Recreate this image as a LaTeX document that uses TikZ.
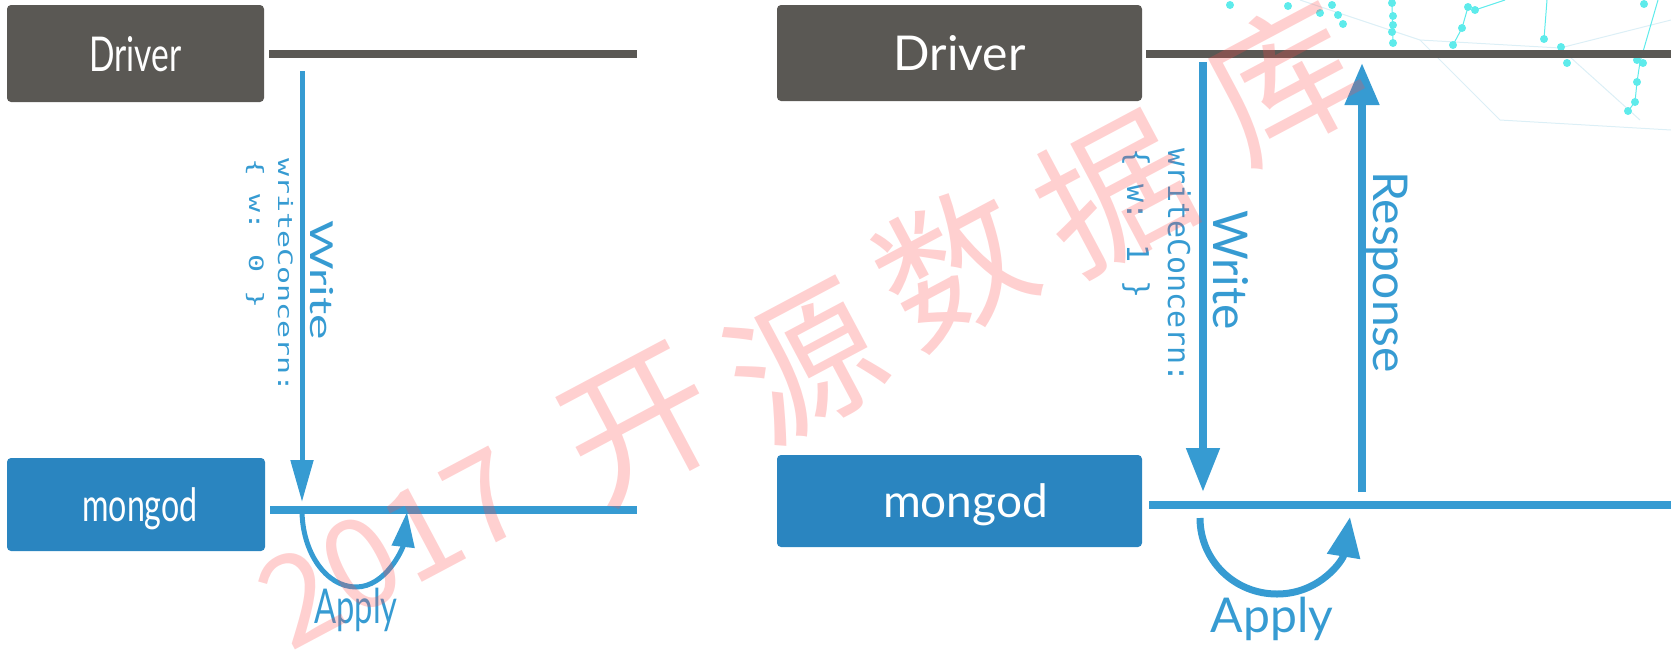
\documentclass[tikz,border=0pt]{standalone}
\usepackage{fontspec}
\usepackage{graphicx}
\usetikzlibrary{arrows.meta}
\newfontfamily\gillfont{Lato}
\newfontfamily\codefont{DejaVu Sans Mono}
\newfontfamily\cjkfont{Noto Sans CJK SC}
\definecolor{drvgray}{HTML}{5A5854}
\definecolor{mgblue}{HTML}{2A85C0}
\definecolor{lnblue}{HTML}{369BD2}
\definecolor{wmpink}{HTML}{FF4A4A}
\definecolor{netcyan}{HTML}{5EEBEB}
\definecolor{netfaint}{HTML}{DCEFF6}
\begin{document}
\begin{tikzpicture}[x=1pt,y=-1pt,
  box/.style={draw=none, rounded corners=4pt, inner sep=0pt, text=white, text depth=0pt},
  drvbox/.style={box, fill=drvgray, font=\gillfont\fontsize{48}{50}\selectfont},
  mgbox/.style={box, fill=mgblue, font=\gillfont\fontsize{46}{48}\selectfont},
  dline/.style={draw=drvgray, line width=8pt},
  mline/.style={draw=lnblue, line width=8pt},
  flowR/.style={draw=lnblue, line width=8pt},
  flowL/.style={draw=lnblue, line width=5pt},
  lbl/.style={text=lnblue, inner sep=0pt, font=\gillfont\fontsize{48}{50}\selectfont},
  code/.style={text=lnblue, inner sep=0pt, font=\codefont\fontsize{30}{36}\selectfont},
  wm/.style={text=wmpink, text opacity=0.26, inner sep=0pt, rotate=28, font=\cjkfont\fontsize{150}{150}\selectfont},
]
\path[use as bounding box] (0,0) rectangle (1671,649);

% faint network decoration (top right)
\begin{scope}[line width=1pt]
  \draw[netfaint] (1300,0) -- (1420,40) -- (1560,48) -- (1671,20);
  \draw[netfaint] (1420,40) -- (1500,120) -- (1671,130);
  \draw[netfaint] (1560,48) -- (1640,120);
  \draw[netcyan] (1468,7) -- (1462,28) -- (1453,45);
  \draw[netcyan] (1475,10) -- (1505,0);
  \draw[netcyan] (1544,39) -- (1547,0);
  \draw[netcyan] (1658,0) -- (1640,62) -- (1637,82) -- (1635,102) -- (1628,111);
  \draw[netcyan] (1392,3) -- (1393,43);
  \foreach \p in {(1230,5),(1288,6),(1320,13),(1332,5),(1338,15),(1343,24),
                  (1392,3),(1393,16),(1393,25),(1392,32),(1393,43),
                  (1468,7),(1475,10),(1462,28),(1453,45),
                  (1544,39),(1561,47),(1567,63),(1644,4),
                  (1637,60),(1643,63),(1637,82),(1635,102),(1628,111)}
    \fill[netcyan] \p circle[radius=4pt];
\end{scope}

% right diagram
\node[drvbox, minimum width=365pt, minimum height=96pt] (drvR) at (959.5,53) {Driver};
\node[mgbox, minimum width=365pt, minimum height=92pt] (mgR) at (959.5,501) {\hspace*{12pt}mongod};
\coordinate (drvRend) at (1671,54);
\coordinate (mgRend) at (1671,505);
\draw[dline] ([xshift=4pt]drvR.east |- drvRend) -- (drvRend);
\draw[mline] ([xshift=7pt]mgR.east |- mgRend) -- (mgRend);
\coordinate (wRtop) at (1203,62);
\coordinate (wRbot) at (1203,492);
\coordinate (rRbot) at (1362,492);
\coordinate (rRtop) at (1362,63);
\coordinate (aRs) at (1200,518);
\coordinate (aRb) at (1277,594);
\coordinate (aRe) at (1350,517);
\draw[flowR, -{Triangle[length=44pt,width=32pt]}] (wRtop) -- (wRbot);
\draw[flowR, -{Triangle[length=42pt,width=33pt]}] (rRbot) -- (rRtop);
\draw[draw=lnblue, line width=7pt, -{Triangle[length=40pt,width=32pt]}]
  (aRs) .. controls (1200,560) and (1234,594) .. (aRb)
        .. controls (1320,594) and (1343,560) .. (aRe);
\node[lbl, rotate=-90, anchor=base] (writeR) at (1213,270) {Write};
\node[lbl, rotate=-90, anchor=base] (respR) at (1373,272) {Response};
\node[lbl, anchor=base] (applyR) at (1272,632) {Apply};
\node[code, rotate=-90, anchor=base west] (wcR1) at (1168,148) {writeConcern:};
\node[code, rotate=-90, anchor=base west] (wcR2) at (1127,148) {\{ w: 1 \}};

% left diagram (horizontally squeezed)
\node[drvbox, minimum width=257pt, minimum height=97pt] (drvL) at (135.5,53.5) {\scalebox{0.7}[1]{Driver}};
\node[mgbox, minimum width=258pt, minimum height=93pt] (mgL) at (136,504.5) {\hspace*{8pt}\scalebox{0.7}[1]{mongod}};
\coordinate (drvLend) at (637,54);
\coordinate (mgLend) at (637,510);
\draw[dline] ([xshift=5pt]drvL.east |- drvLend) -- (drvLend);
\draw[mline] ([xshift=5pt]mgL.east |- mgLend) -- (mgLend);
\coordinate (wLtop) at (302,71);
\coordinate (wLbot) at (302,502);
\coordinate (aLs) at (302,510);
\coordinate (aLb) at (356,587);
\coordinate (aLe) at (407,512);
\draw[flowL, -{Triangle[length=42pt,width=22pt]}] (wLtop) -- (wLbot);
\draw[flowL, -{Triangle[length=35pt,width=22pt]}]
  (aLs) .. controls (302,552) and (326,587) .. (aLb)
        .. controls (386,587) and (403,548) .. (aLe);
\node[lbl, rotate=-90, anchor=base] (writeL) at (310,280) {\scalebox{1}[0.66]{Write}};
\node[lbl, anchor=base] (applyL) at (356,623) {\scalebox{0.68}[1]{Apply}};
\node[code, rotate=-90, anchor=base west] (wcL1) at (278,158) {\scalebox{1}[0.66]{writeConcern:}};
\node[code, rotate=-90, anchor=base west] (wcL2) at (249,158) {\scalebox{1}[0.66]{\{ w: 0 \}}};

% watermark
\node[wm, font=\cjkfont\fontsize{125}{125}\selectfont] (wm0) at (392,548) {2017};
\node[wm] (wm1) at (640,426) {开};
\node[wm] (wm2) at (805,362) {源};
\node[wm] (wm3) at (954,266) {数};
\node[wm] (wm4) at (1114,192) {据};
\node[wm] (wm5) at (1284,80) {库};
\end{tikzpicture}
\end{document}
